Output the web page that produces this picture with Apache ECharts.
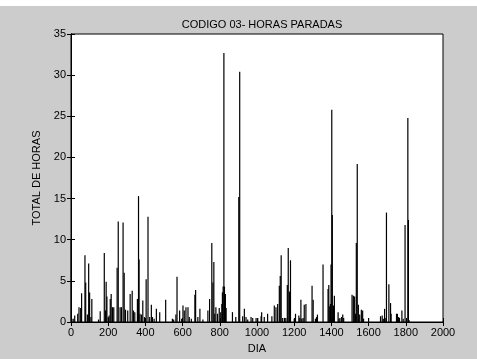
<!DOCTYPE html>
<html>
<head>
<meta charset="utf-8">
<script src="https://cdn.jsdelivr.net/npm/echarts@6/dist/echarts.min.js"></script>
<style>
html,body{margin:0;padding:0;background:#cccccc;}
#c{width:477px;height:359px;}
</style>
</head>
<body>
<div id="c"></div>
<script>
const titleText = 'CODIGO 03- HORAS PARADAS';
const xName = 'DIA';
const yName = 'TOTAL DE HORAS';
const xTicks = [0,200,400,600,800,1000,1200,1400,1600,1800,2000];
const yTicks = [0,5,10,15,20,25,30,35];

const days = [
  1,4,12,20,36,43,52,57,75,79,88,95,100,107,112,148,157,179,186,189,193,200,205,211,216,223,230,
  248,254,264,271,280,286,293,305,318,329,336,343,357,363,366,371,379,386,395,404,414,423,432,438,
  447,459,477,509,545,552,564,570,584,595,602,609,618,629,636,647,666,670,682,693,709,736,745,757,
  763,768,773,779,788,797,805,811,814,818,822,825,830,834,868,886,902,907,923,932,941,950,968,977,
  995,1004,1022,1025,1039,1057,1080,1093,1102,1111,1120,1125,1130,1138,1148,1155,1163,1168,1175,
  1180,1200,1207,1225,1230,1236,1241,1248,1254,1263,1296,1302,1314,1320,1325,1355,1382,1386,1391,
  1395,1398,1402,1405,1411,1416,1436,1441,1446,1455,1461,1466,1511,1518,1525,1530,1534,1539,1545,
  1552,1561,1568,1573,1600,1664,1673,1679,1686,1693,1696,1709,1718,1721,1750,1755,1761,1766,1779,
  1786,1796,1811,1814,1818
];
const hours = [
  10.0,0.4,0.4,0.8,1.0,1.8,1.7,3.5,8.1,4.8,0.9,7.1,3.6,0.6,2.8,0.3,1.3,8.4,1.4,4.9,3.1,0.6,0.8,2.8,3.4,1.8,1.8,
  6.6,12.2,1.8,1.8,12.1,6.0,1.5,1.4,3.4,3.8,1.4,1.2,2.8,15.3,7.6,1.0,0.9,2.6,0.6,5.2,12.8,0.6,2.1,0.6,
  0.4,1.6,1.2,2.7,0.4,0.3,0.9,5.5,1.4,0.4,2.0,1.4,1.8,1.8,0.6,0.4,3.3,3.9,0.6,1.6,0.3,1.4,2.8,9.6,
  4.8,7.3,1.0,1.8,1.0,1.7,1.2,2.2,3.6,4.3,32.7,4.3,3.4,1.7,1.2,0.6,15.2,30.4,0.7,1.6,0.6,0.3,0.6,0.5,
  0.5,0.5,0.7,1.2,0.6,1.0,0.7,2.0,1.8,2.2,4.4,5.6,8.1,0.5,0.5,0.5,4.5,9.0,3.7,
  7.5,0.4,1.0,0.8,0.5,2.7,0.4,0.5,2.1,2.2,4.4,2.7,0.4,0.6,0.9,7.0,4.0,4.5,1.9,
  2.2,7.0,25.8,13.0,2.0,3.2,1.2,0.4,0.5,0.6,0.9,0.5,3.3,3.2,3.1,1.0,9.6,19.2,2.1,
  0.9,1.5,1.4,0.4,0.5,0.7,0.8,0.4,1.6,0.5,13.3,4.6,2.3,1.0,1.0,1.0,0.6,0.5,1.4,
  0.4,11.8,24.8,12.4,0.2
];

const chart = echarts.init(document.getElementById('c'), null, {renderer:'canvas'});
const font = {fontFamily:'Liberation Sans, Arial, sans-serif', fontSize:11, color:'#000'};
const data = days.map((d,i)=>[d, hours[i]]);
const xMin = xTicks[0], xMax = xTicks[xTicks.length-1], xInt = xTicks[1]-xTicks[0];
const yMin = yTicks[0], yMax = yTicks[yTicks.length-1], yInt = yTicks[1]-yTicks[0];
const axLine = {show:true, lineStyle:{color:'#000', width:1}};
const tick = {show:true, inside:true, length:4, lineStyle:{color:'#000'}};
const plain = v => String(v);

chart.setOption({
  backgroundColor:'#cccccc',
  animation:false,
  graphic:[{type:'rect', left:0, top:0, shape:{width:477, height:6}, style:{fill:'#ffffff'}, silent:true}],
  title:{text:titleText, left:257, top:14, textAlign:'center',
    textStyle:Object.assign({fontWeight:'normal'}, font)},
  grid:{left:71, right:34, top:34, bottom:35, show:true, backgroundColor:'#ffffff', borderColor:'#000', borderWidth:1},
  xAxis:[
    {type:'value', min:xMin, max:xMax, interval:xInt, position:'bottom',
     name:xName, nameLocation:'middle', nameGap:21, nameTextStyle:font,
     axisLine:axLine, axisTick:tick, splitLine:{show:false},
     axisLabel:Object.assign({margin:5, formatter:plain}, font)},
    {type:'value', min:xMin, max:xMax, interval:xInt, position:'top',
     axisLine:axLine, axisTick:tick, splitLine:{show:false}, axisLabel:{show:false}}
  ],
  yAxis:[
    {type:'value', min:yMin, max:yMax, interval:yInt, position:'left',
     name:yName, nameLocation:'middle', nameGap:24, nameTextStyle:font,
     axisLine:axLine, axisTick:tick, splitLine:{show:false},
     axisLabel:Object.assign({margin:5, formatter:plain}, font)},
    {type:'value', min:yMin, max:yMax, interval:yInt, position:'right',
     axisLine:axLine, axisTick:tick, splitLine:{show:false}, axisLabel:{show:false}}
  ],
  series:[{
    type:'bar', xAxisIndex:0, yAxisIndex:0, data:data, barWidth:1.2,
    itemStyle:{color:'#000'}, silent:true
  }]
});
</script>
</body>
</html>
